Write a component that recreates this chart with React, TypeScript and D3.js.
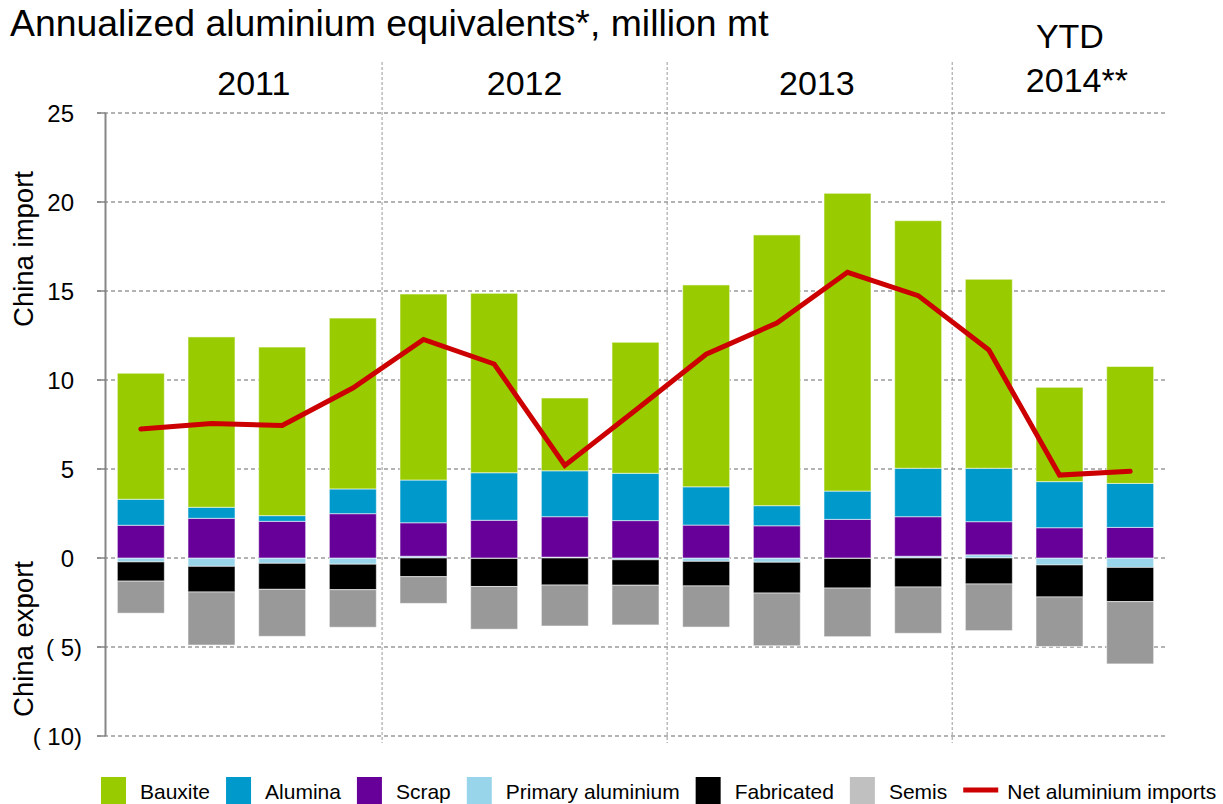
import React, { useEffect, useRef } from 'react';
import * as d3 from 'd3';

// quarterly annualized values, million mt of aluminium equivalent
const periods = [
  'Q1 2011', 'Q2 2011', 'Q3 2011', 'Q4 2011',
  'Q1 2012', 'Q2 2012', 'Q3 2012', 'Q4 2012',
  'Q1 2013', 'Q2 2013', 'Q3 2013', 'Q4 2013',
  'Q1 2014', 'Q2 2014', 'Q3 2014',
];
const bauxite = [7.08, 9.57, 9.47, 9.6, 10.45, 10.08, 4.09, 7.36, 11.34, 15.21, 16.73, 13.91, 10.62, 5.3, 6.57];
const alumina = [1.46, 0.62, 0.32, 1.39, 2.4, 2.67, 2.58, 2.66, 2.15, 1.13, 1.59, 2.72, 3.0, 2.59, 2.47];
const scrap = [1.84, 2.23, 2.06, 2.49, 1.88, 2.12, 2.27, 2.1, 1.85, 1.81, 2.17, 2.22, 1.86, 1.7, 1.72];
const primary = [-0.22, -0.47, -0.3, -0.35, 0.1, -0.03, 0.05, -0.1, -0.19, -0.24, -0.03, 0.1, 0.18, -0.39, -0.53];
const fabricated = [-1.08, -1.44, -1.46, -1.43, -1.05, -1.57, -1.52, -1.43, -1.38, -1.73, -1.66, -1.63, -1.46, -1.8, -1.92];
const semis = [-1.8, -2.98, -2.64, -2.11, -1.5, -2.4, -2.3, -2.23, -2.31, -2.96, -2.73, -2.6, -2.62, -2.78, -3.5];
const netImports = [7.25, 7.55, 7.45, 9.55, 12.28, 10.9, 5.2, 8.3, 11.45, 13.2, 16.05, 14.74, 11.69, 4.66, 4.87];

const yTicks = [-10, -5, 0, 5, 10, 15, 20, 25];
const yearLabels = ['2011', '2012', '2013', '2014**'];
const yearFirstIndex = [0, 4, 8, 12];

const colors: Record<string, string> = {
  bauxite: '#99cc00',
  alumina: '#0099cc',
  scrap: '#660099',
  primary: '#99d5ea',
  fabricated: '#000000',
  semis: '#999999',
};
const stackKeys = ['primary', 'scrap', 'alumina', 'bauxite', 'fabricated', 'semis'];
const legendItems = [
  { key: 'bauxite', label: 'Bauxite' },
  { key: 'alumina', label: 'Alumina' },
  { key: 'scrap', label: 'Scrap' },
  { key: 'primary', label: 'Primary aluminium' },
  { key: 'fabricated', label: 'Fabricated' },
  { key: 'semis', label: 'Semis' },
];

const FONT = 'Liberation Sans, Arial, sans-serif';

const App: React.FC = () => {
  const svgRef = useRef<SVGSVGElement>(null);

  useEffect(() => {
    if (!svgRef.current) return;
    const svg = d3.select(svgRef.current);
    svg.selectAll('*').remove();

    const left = 105.5, right = 1165.5, top = 113, bottom = 736;

    const rows = periods.map((p, i) => ({
      period: p,
      bauxite: bauxite[i], alumina: alumina[i], scrap: scrap[i],
      primary: primary[i], fabricated: fabricated[i], semis: semis[i],
    }));

    const x = d3.scaleBand<string>().domain(periods).range([left, right]).paddingInner(0.335).paddingOuter(0.1675);
    const y = d3.scaleLinear().domain([-10, 25]).range([bottom, top]);
    // year separators sit on a slightly shifted category axis
    const sep = d3.scaleLinear().domain([0, periods.length]).range([left - 8.5, right + 0.5]);

    // title
    svg.append('text')
      .attr('x', 10).attr('y', 36)
      .attr('font-size', 37.4).attr('font-family', FONT)
      .text('Annualized aluminium equivalents*, million mt');

    // gridlines
    svg.append('g').selectAll('line').data(yTicks).join('line')
      .attr('x1', left - 8.5).attr('x2', right)
      .attr('y1', d => y(d)).attr('y2', d => y(d))
      .attr('stroke', '#9a9a9a').attr('stroke-width', 1.3)
      .attr('stroke-dasharray', '4,3');

    // year separators
    svg.append('g').selectAll('line').data(yearFirstIndex.slice(1)).join('line')
      .attr('x1', d => sep(d)).attr('x2', d => sep(d))
      .attr('y1', 62).attr('y2', bottom + 7)
      .attr('stroke', '#9a9a9a').attr('stroke-width', 1)
      .attr('stroke-dasharray', '3,2');

    // year labels
    const yearCenters = [2.2, 6.0, 10.1, 13.75];
    yearLabels.forEach((lab, i) => {
      const cx = sep(yearCenters[i]);
      if (lab.startsWith('2014')) {
        svg.append('text').attr('x', cx - 7).attr('y', 48)
          .attr('text-anchor', 'middle').attr('font-size', 34).attr('font-family', FONT)
          .text('YTD');
      }
      svg.append('text').attr('x', cx).attr('y', lab.startsWith('2014') ? 92 : 95)
        .attr('text-anchor', 'middle').attr('font-size', 34).attr('font-family', FONT)
        .text(lab);
    });

    // stacked bars
    const series = d3.stack<any>().keys(stackKeys).offset(d3.stackOffsetDiverging)(rows);
    svg.append('g').selectAll('g').data(series).join('g')
      .attr('fill', s => colors[s.key])
      .selectAll('rect').data(s => s).join('rect')
      .attr('x', d => x(d.data.period)!)
      .attr('width', x.bandwidth())
      .attr('y', d => y(Math.max(d[0], d[1])))
      .attr('height', d => Math.abs(y(d[0]) - y(d[1])))
      .attr('stroke', 'rgba(255,255,255,0.55)').attr('stroke-width', 1);

    // y axis
    svg.append('line')
      .attr('x1', left).attr('x2', left).attr('y1', top).attr('y2', bottom)
      .attr('stroke', '#868686').attr('stroke-width', 2);
    svg.append('g').selectAll('line').data(yTicks).join('line')
      .attr('x1', left - 8.5).attr('x2', left)
      .attr('y1', d => y(d)).attr('y2', d => y(d))
      .attr('stroke', '#868686').attr('stroke-width', 1.5);
    svg.append('g').selectAll('text').data(yTicks).join('text')
      .attr('x', d => (d < 0 ? 82 : 74))
      .attr('y', d => y(d) + 8.5)
      .attr('text-anchor', 'end').attr('font-size', 24).attr('font-family', FONT)
      .text(d => (d < 0 ? `( ${-d})` : `${d}`));

    // axis titles
    [['China import', 249], ['China export', 639]].forEach(([t, cy]) => {
      svg.append('text')
        .attr('transform', `translate(33,${cy}) rotate(-90)`)
        .attr('text-anchor', 'middle').attr('font-size', 27.5).attr('font-family', FONT)
        .text(t as string);
    });

    // net imports line
    const line = d3.line<number>()
      .x((_, i) => x(periods[i])! + x.bandwidth() / 2)
      .y(d => y(d));
    svg.append('path').datum(netImports)
      .attr('d', line)
      .attr('fill', 'none').attr('stroke', '#cc0000').attr('stroke-width', 5)
      .attr('stroke-linecap', 'round').attr('stroke-linejoin', 'miter');

    // legend
    const lg = svg.append('g').attr('font-family', FONT).attr('font-size', 21);
    let lx = 101;
    const ly = 777;
    legendItems.forEach(item => {
      lg.append('rect').attr('x', lx).attr('y', ly).attr('width', 25).attr('height', 27)
        .attr('fill', item.key === 'semis' ? '#c0c0c0' : colors[item.key]);
      const t = lg.append('text').attr('x', lx + 39).attr('y', ly + 22).text(item.label);
      const w = (t.node() as SVGTextElement).getComputedTextLength();
      lx = lx + 39 + w + 16;
    });
    lg.append('line').attr('x1', lx).attr('x2', lx + 35).attr('y1', ly + 13).attr('y2', ly + 13)
      .attr('stroke', '#cc0000').attr('stroke-width', 5);
    lg.append('text').attr('x', lx + 44).attr('y', ly + 22).text('Net aluminium imports');
  }, []);

  return (
    <svg ref={svgRef} width={1223} height={804}
      style={{ position: 'absolute', left: 0, top: 0, background: '#fff' }} />
  );
};

export default App;
